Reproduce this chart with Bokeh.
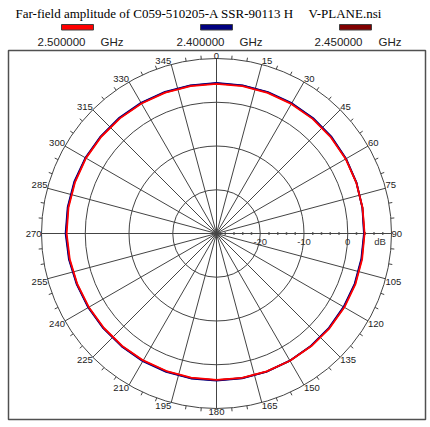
import numpy as np
from bokeh.plotting import figure
from bokeh.models import Range1d
from bokeh.core.properties import value
from bokeh.embed import file_html
from bokeh.resources import INLINE

# ---------------- data ----------------
TITLE_LEFT = "Far-field amplitude of C059-510205-A SSR-90113 H"
TITLE_RIGHT = "V-PLANE.nsi"
FREQ_LABELS = ["2.500000", "2.400000", "2.450000"]
FREQ_UNIT = "GHz"
SERIES_COLORS = ["#ff0000", "#000080", "#800000"]

DB_MIN = -30          # value at centre
DB_MAX = 10           # value at outer circle
DB_RINGS = [-20, -10, 0, 10]
DB_LABELS = ["-20", "-10", "0"]
ANGLE_TICKS = list(range(0, 360, 15))

ANGLES = list(range(0, 360, 10))
GAIN_2500 = [4.2, 4.2, 4.2, 4.2, 4.2, 4.15, 4.1, 4.0, 3.9, 3.85, 3.8, 3.8,
             3.75, 3.7, 3.65, 3.6, 3.55, 3.5, 3.45, 3.45, 3.45, 3.5, 3.55, 3.6,
             3.7, 3.85, 4.05, 4.25, 4.35, 4.4, 4.45, 4.4, 4.35, 4.3, 4.25, 4.2]
GAIN_2400 = [4.4, 4.4, 4.4, 4.4, 4.4, 4.35, 4.2, 4.05, 3.85, 3.7, 3.6, 3.6,
             3.55, 3.55, 3.55, 3.55, 3.6, 3.6, 3.6, 3.65, 3.65, 3.7, 3.7, 3.75,
             3.85, 4.0, 4.25, 4.5, 4.55, 4.6, 4.6, 4.55, 4.55, 4.5, 4.45, 4.4]
GAIN_2450 = [4.3, 4.3, 4.3, 4.3, 4.3, 4.25, 4.15, 4.02, 3.88, 3.78, 3.7, 3.7,
             3.65, 3.62, 3.6, 3.58, 3.58, 3.55, 3.52, 3.55, 3.55, 3.6, 3.62, 3.68,
             3.78, 3.92, 4.15, 4.38, 4.45, 4.5, 4.52, 4.48, 4.45, 4.4, 4.35, 4.3]

# ---------------- layout helpers ----------------
U = 4.375            # pixels per dB
CX, CY = 216, 233    # pixel position of the pole


def X(px):
    return (px - CX) / U


def Y(py):
    return (CY - py) / U


p = figure(width=430, height=427,
           x_range=Range1d(X(0), X(430)), y_range=Range1d(Y(427), Y(0)),
           output_backend="svg", toolbar_location=None,
           x_axis_location=None, y_axis_location=None,
           min_border=0, min_border_left=0, min_border_right=0,
           min_border_top=0, min_border_bottom=0)
p.xgrid.visible = False
p.ygrid.visible = False
p.outline_line_color = None
p.background_fill_color = "white"
p.border_fill_color = "white"

GRID = "#444444"
R_OUT = DB_MAX - DB_MIN

# frame
p.quad(left=X(8), right=X(425), top=Y(50), bottom=Y(419),
       fill_color=None, line_color="#505050", line_width=1.5)

# rings
rr = [d - DB_MIN for d in DB_RINGS]
p.circle(x=[0] * len(rr), y=[0] * len(rr), radius=rr,
         fill_color=None, line_color=GRID, line_width=1)

# spokes
th = np.deg2rad(ANGLE_TICKS)
p.segment(x0=0, y0=0, x1=R_OUT * np.sin(th), y1=R_OUT * np.cos(th),
          line_color=GRID, line_width=1)

# minor angle ticks every 5 deg
minor = np.deg2rad([a for a in range(0, 360, 5) if a % 15 != 0])
p.segment(x0=R_OUT * np.sin(minor), y0=R_OUT * np.cos(minor),
          x1=(R_OUT + 0.8) * np.sin(minor), y1=(R_OUT + 0.8) * np.cos(minor),
          line_color=GRID, line_width=1)

# dB axis minor ticks
dbt = [d for d in range(DB_MIN + 2, DB_MAX, 2) if d % 10 != 0]
xt = [d - DB_MIN for d in dbt]
p.segment(x0=xt, y0=[-0.3] * len(xt), x1=xt, y1=[0.3] * len(xt),
          line_color=GRID, line_width=1.5)

# curves
for vals, col in [(GAIN_2450, SERIES_COLORS[2]), (GAIN_2400, SERIES_COLORS[1]),
                  (GAIN_2500, SERIES_COLORS[0])]:
    t = np.deg2rad(ANGLES + [ANGLES[0] + 360])
    r = np.array(vals + [vals[0]]) - DB_MIN
    p.line(r * np.sin(t), r * np.cos(t), line_color=col, line_width=1.8,
           line_join="round")

# angle labels
LF = value("Liberation Sans")
for a in ANGLE_TICKS:
    t = np.deg2rad(a)
    x, y = R_OUT * np.sin(t), R_OUT * np.cos(t)
    if a == 0:
        al, bl = "center", "bottom"
    elif a == 180:
        al, bl = "center", "top"
    elif a == 90:
        al, bl = "left", "middle"
    elif a == 270:
        al, bl = "right", "middle"
    elif a < 90:
        al, bl = "left", "bottom"
    elif a < 180:
        al, bl = "left", "top"
    elif a < 270:
        al, bl = "right", "top"
    else:
        al, bl = "right", "bottom"
    p.text(x=[x], y=[y], text=[str(a)], text_font=LF, text_font_size="9.5px",
           text_color="#222222", text_align=value(al), text_baseline=value(bl))

# dB labels
for d, lab in zip(DB_RINGS[:3], DB_LABELS):
    p.text(x=[d - DB_MIN], y=[Y(241)], text=[lab], text_font=LF,
           text_font_size="9.5px", text_color="#333333",
           text_align=value("center"), text_baseline=value("middle"))
p.text(x=[X(379.5)], y=[Y(241)], text=["dB"], text_font=LF,
       text_font_size="9.5px", text_color="#333333",
       text_align=value("center"), text_baseline=value("middle"))

# title
TF = value("Liberation Serif")
p.text(x=[X(15)], y=[Y(13)], text=[TITLE_LEFT], text_font=TF,
       text_font_size="13px", text_color="black",
       text_align=value("left"), text_baseline=value("middle"))
p.text(x=[X(308)], y=[Y(13)], text=[TITLE_RIGHT], text_font=TF,
       text_font_size="13px", text_color="black",
       text_align=value("left"), text_baseline=value("middle"))

# legend
bar_l = [61, 200, 339]
num_l = [37, 176, 314]
unit_l = [100, 239, 378]
for i in range(3):
    p.quad(left=X(bar_l[i]), right=X(bar_l[i] + 32), top=Y(24), bottom=Y(29.5),
           fill_color=SERIES_COLORS[i], line_color="#404040", line_width=1)
    p.text(x=[X(num_l[i])], y=[Y(41)], text=[FREQ_LABELS[i]], text_font=LF,
           text_font_size="11.5px", text_color="#222222",
           text_align=value("left"), text_baseline=value("middle"))
    p.text(x=[X(unit_l[i])], y=[Y(41)], text=[FREQ_UNIT], text_font=LF,
           text_font_size="11.5px", text_color="#222222",
           text_align=value("left"), text_baseline=value("middle"))

open("out.html", "w").write(file_html(p, INLINE))
